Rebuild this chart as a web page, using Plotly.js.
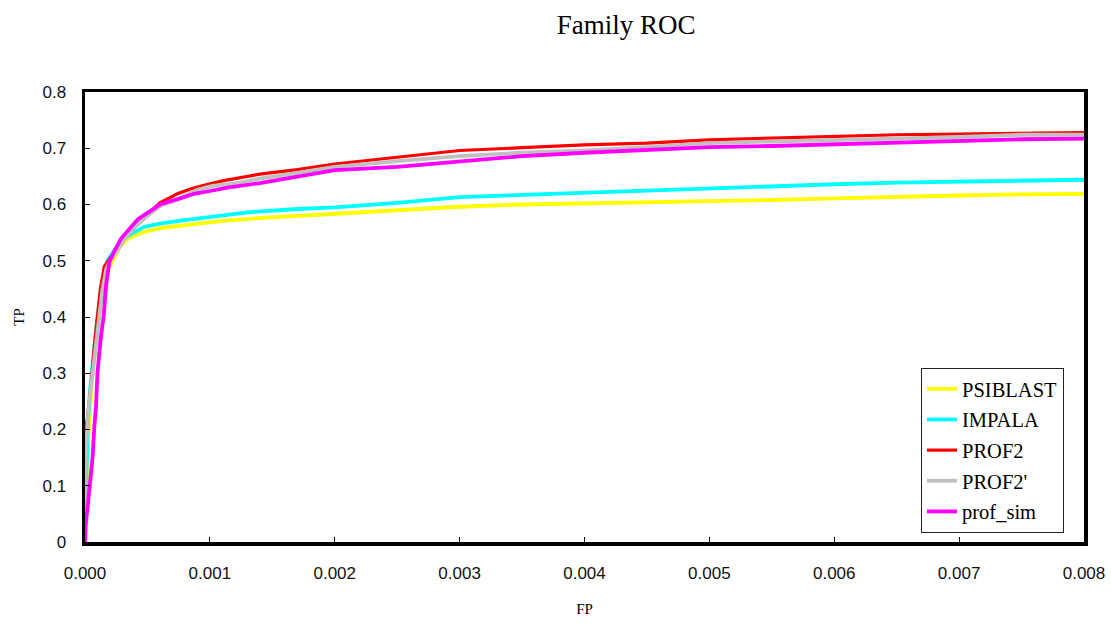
<!DOCTYPE html>
<html>
<head>
<meta charset="utf-8">
<script src="https://cdn.plot.ly/plotly-3.0.1.min.js"></script>
<style>html,body{margin:0;padding:0;background:#fff}#chart{width:1111px;height:626px}</style>
</head>
<body>
<div id="chart"></div>
<script>
// ---- data ----
const seriesNames = ["PSIBLAST", "IMPALA", "PROF2", "PROF2'", "prof_sim"];

const psiblastFP = [0, 0.00001, 0.00003, 0.00006, 0.0001, 0.00014, 0.00018, 0.00022, 0.00028, 0.00035, 0.00047, 0.0006, 0.00075, 0.0009, 0.0011, 0.0014, 0.0017, 0.002, 0.0025, 0.003, 0.0035, 0.004, 0.0045, 0.005, 0.0055, 0.006, 0.0065, 0.007, 0.0075, 0.008];
const psiblastTP = [0, 0.08, 0.2, 0.3, 0.38, 0.44, 0.48, 0.5, 0.525, 0.54, 0.551, 0.558, 0.562, 0.567, 0.571, 0.576, 0.58, 0.584, 0.59, 0.596, 0.6, 0.602, 0.603, 0.605, 0.608, 0.611, 0.614, 0.616, 0.618, 0.619];

const impalaFP = [0, 0.000005, 0.00001, 0.00002, 0.00004, 0.00005, 0.000075, 0.0001, 0.00014, 0.00018, 0.00024, 0.00034, 0.00047, 0.0006, 0.00075, 0.001, 0.0013, 0.0017, 0.002, 0.0025, 0.003, 0.0035, 0.004, 0.0045, 0.005, 0.0055, 0.006, 0.0065, 0.007, 0.0075, 0.008];
const impalaTP = [0, 0.05, 0.11, 0.2, 0.27, 0.29, 0.34, 0.40, 0.46, 0.50, 0.52, 0.544, 0.56, 0.566, 0.571, 0.578, 0.586, 0.592, 0.595, 0.603, 0.613, 0.617, 0.621, 0.625, 0.629, 0.632, 0.636, 0.639, 0.641, 0.643, 0.644];

const prof2FP = [0, 0.000005, 0.00001, 0.00002, 0.000035, 0.000053, 0.000075, 0.000096, 0.000123, 0.000155, 0.0002, 0.00025, 0.00032, 0.0004, 0.0005, 0.0006, 0.00074, 0.00085, 0.00093, 0.0011, 0.0014, 0.0017, 0.002, 0.0025, 0.003, 0.0035, 0.004, 0.0045, 0.005, 0.0055, 0.006, 0.0065, 0.007, 0.0075, 0.008];
const prof2TP = [0, 0.12, 0.21, 0.22, 0.25, 0.29, 0.35, 0.40, 0.45, 0.49, 0.505, 0.52, 0.54, 0.56, 0.582, 0.603, 0.619, 0.628, 0.633, 0.642, 0.654, 0.662, 0.672, 0.684, 0.696, 0.701, 0.706, 0.709, 0.715, 0.718, 0.721, 0.724, 0.725, 0.727, 0.728];

const prof2pFP = [0, 0.000005, 0.00001, 0.00003, 0.00005, 0.00008, 0.00011, 0.00014, 0.00017, 0.0002, 0.00025, 0.00032, 0.0004, 0.0005, 0.0006, 0.00075, 0.0009, 0.00102, 0.0012, 0.0014, 0.0017, 0.002, 0.0025, 0.003, 0.0035, 0.004, 0.0045, 0.005, 0.0055, 0.006, 0.0065, 0.007, 0.0075, 0.008];
const prof2pTP = [0, 0.1, 0.18, 0.24, 0.28, 0.34, 0.40, 0.45, 0.485, 0.5, 0.515, 0.54, 0.56, 0.58, 0.597, 0.61, 0.626, 0.633, 0.637, 0.646, 0.656, 0.667, 0.677, 0.686, 0.692, 0.696, 0.702, 0.709, 0.712, 0.714, 0.717, 0.72, 0.724, 0.724];

const profsimFP = [0, 0.000005, 0.000021, 0.000048, 0.000061, 0.000075, 0.000088, 0.0001, 0.000115, 0.000128, 0.00015, 0.000168, 0.000195, 0.00023, 0.000288, 0.00035, 0.000424, 0.0005, 0.000608, 0.00075, 0.000872, 0.001, 0.00114, 0.0014, 0.0017, 0.002, 0.0025, 0.003, 0.0035, 0.004, 0.0045, 0.005, 0.0055, 0.006, 0.0065, 0.007, 0.0075, 0.008];
const profsimTP = [0, 0.03, 0.062, 0.122, 0.151, 0.206, 0.241, 0.301, 0.343, 0.366, 0.402, 0.455, 0.498, 0.515, 0.539, 0.556, 0.574, 0.585, 0.601, 0.61, 0.619, 0.624, 0.63, 0.638, 0.649, 0.661, 0.667, 0.677, 0.686, 0.692, 0.697, 0.702, 0.704, 0.707, 0.71, 0.713, 0.716, 0.717];

const xTickVals = [0, 0.001, 0.002, 0.003, 0.004, 0.005, 0.006, 0.007, 0.008];
const xTickText = ["0.000", "0.001", "0.002", "0.003", "0.004", "0.005", "0.006", "0.007", "0.008"];
const yTickVals = [0, 0.1, 0.2, 0.3, 0.4, 0.5, 0.6, 0.7, 0.8];
const yTickText = ["0", "0.1", "0.2", "0.3", "0.4", "0.5", "0.6", "0.7", "0.8"];

// ---- styles ----
const colors = ["#FFFF00", "#00FFFF", "#FF0000", "#C0C0C0", "#FF00FF"];
const widths = [3.8, 3.8, 3.2, 3.8, 3.8];
const xs = [psiblastFP, impalaFP, prof2FP, prof2pFP, profsimFP];
const ys = [psiblastTP, impalaTP, prof2TP, prof2pTP, profsimTP];

const traces = seriesNames.map((n, i) => ({
  type: 'scatter', mode: 'lines', name: n, legendgroup: 'g' + i,
  x: xs[i], y: ys[i],
  line: {color: colors[i], width: widths[i]}
}));

const serif = '"Liberation Serif", "DejaVu Serif", serif';
const sans = '"Liberation Sans", Arial, sans-serif';

const layout = {
  width: 1111, height: 626,
  paper_bgcolor: '#fff', plot_bgcolor: '#fff',
  margin: {l: 85, r: 27, t: 92, b: 84, autoexpand: false},
  title: {text: 'Family ROC', font: {family: serif, size: 27, color: '#000'},
          x: 0.5635, xref: 'container', xanchor: 'center', y: 0.96, yref: 'container', yanchor: 'middle'},
  xaxis: {
    range: [0, 0.008], tickvals: xTickVals, ticktext: xTickText,
    showgrid: false, zeroline: false,
    showline: true, mirror: true, linecolor: '#000', linewidth: 3.5,
    ticks: 'inside', ticklen: 5, tickwidth: 1, tickcolor: '#000',
    tickfont: {family: sans, size: 17, color: '#111'},
    ticklabelstandoff: 13,
    title: {text: 'FP', font: {family: serif, size: 15, color: '#000'}, standoff: 22},
    automargin: false
  },
  yaxis: {
    range: [0, 0.8], tickvals: yTickVals, ticktext: yTickText,
    showgrid: false, zeroline: false,
    showline: true, mirror: true, linecolor: '#000', linewidth: 3.5,
    ticks: 'inside', ticklen: 5, tickwidth: 1, tickcolor: '#000',
    tickfont: {family: sans, size: 17, color: '#111'},
    ticklabelstandoff: 12,
    title: {text: 'TP', font: {family: serif, size: 15, color: '#000'}, standoff: 15},
    automargin: false
  },
  showlegend: true,
  legend: {
    x: 0.98, xanchor: 'right', y: 0.02, yanchor: 'bottom',
    bgcolor: '#fff', bordercolor: '#222', borderwidth: 1,
    font: {family: serif, size: 20.5, color: '#000'},
    tracegroupgap: 1
  }
};

Plotly.newPlot('chart', traces, layout, {displayModeBar: false, staticPlot: true});
</script>
</body>
</html>
